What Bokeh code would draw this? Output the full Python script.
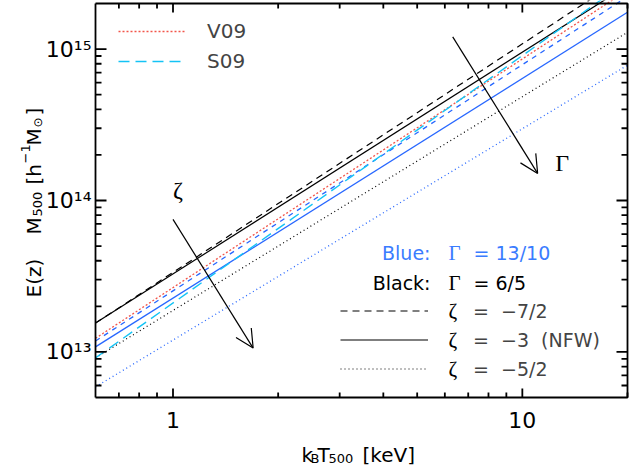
import math
from bokeh.plotting import figure
from bokeh.models import (FixedTicker, CustomJSTickFormatter, Label, Arrow,
                          OpenHead, Legend, LegendItem, Range1d)
from bokeh.embed import file_html
from bokeh.resources import INLINE

# ---- data: k_B T500 [keV] vs E(z) M500 [h^-1 Msun] ----
T_ends = [0.6, 20.0]
black_dashed = [1.55e13, 3.08e15]   # Gamma = 6/5,  zeta = -7/2
black_solid = [1.55e13, 2.63e15]    # Gamma = 6/5,  zeta = -3
black_dotted = [9.13e12, 1.29e15]   # Gamma = 6/5,  zeta = -5/2
blue_dashed = [1.18e13, 2.22e15]    # Gamma = 13/10, zeta = -7/2
blue_solid = [1.08e13, 1.75e15]     # Gamma = 13/10, zeta = -3
blue_dotted = [5.87e12, 7.83e14]    # Gamma = 13/10, zeta = -5/2
v09 = [1.23e13, 2.45e15]
s09 = [9.13e12, 2.81e15]

# axis ticks
x_major = [1, 10]
x_minor = [0.7, 0.8, 0.9, 2, 3, 4, 5, 6, 7, 8, 9, 20]
y_major = [1e13, 1e14, 1e15]
y_minor = [6e12, 7e12, 8e12, 9e12, 2e13, 3e13, 4e13, 5e13, 6e13, 7e13, 8e13, 9e13,
           2e14, 3e14, 4e14, 5e14, 6e14, 7e14, 8e14, 9e14]

x_lim = (0.6, 20.0)
y_lim = (5e12, 2e15)

# ---- layout (pixels) ----
W, H = 629, 466
BOX_L, BOX_R, BOX_T, BOX_B = 95, 627, 3, 397
ppdx = (BOX_R - BOX_L) / math.log10(x_lim[1] / x_lim[0])
ppdy = (BOX_B - BOX_T) / math.log10(y_lim[1] / y_lim[0])
xr = Range1d(x_lim[0] / 10 ** (BOX_L / ppdx), x_lim[1] * 10 ** ((W - BOX_R) / ppdx))
yr = Range1d(y_lim[0] / 10 ** ((H - BOX_B) / ppdy), y_lim[1] * 10 ** (BOX_T / ppdy))

BLUE = "#2767FF"
BLUE_TXT = "#3A7CFF"
CYAN = "#14C3F5"
RED = "#F2564B"
SANS = "DejaVu Sans"
SERIF = "Liberation Serif"

p = figure(width=W, height=H, x_axis_type="log", y_axis_type="log",
           x_range=xr, y_range=yr, output_backend="svg", toolbar_location=None,
           min_border=0, background_fill_color="white", border_fill_color="white",
           outline_line_color=None)
p.grid.visible = False

# data lines
r_bd = p.line(T_ends, black_dashed, line_color="black", line_width=1.2, line_dash="7 5")
r_bs = p.line(T_ends, black_solid, line_color="black", line_width=1.2)
r_bo = p.line(T_ends, black_dotted, line_color="black", line_width=1.2, line_dash="1 3")
r_ud = p.line(T_ends, blue_dashed, line_color=BLUE, line_width=1.3, line_dash="5 5")
r_us = p.line(T_ends, blue_solid, line_color=BLUE, line_width=1.3)
r_uo = p.line(T_ends, blue_dotted, line_color=BLUE, line_width=1.3, line_dash="1 3")
r_v = p.line(T_ends, v09, line_color=RED, line_width=1.3, line_dash="2 2")
r_s = p.line(T_ends, s09, line_color=CYAN, line_width=1.4, line_dash="11 6")


# box edges with inward ticks: one connected path per side
def side_x(majors, minors, y0, sign):
    ym = y0 * 10 ** (sign * 9 / ppdy)
    yn = y0 * 10 ** (sign * 5 / ppdy)
    marks = sorted([(v, ym) for v in majors] + [(v, yn) for v in minors])
    xs, ys = [x_lim[0]], [y0]
    for v, yt in marks:
        xs += [v, v, v]
        ys += [y0, yt, y0]
    xs.append(x_lim[1])
    ys.append(y0)
    p.line(xs, ys, line_color="black", line_width=1.8, line_join="bevel")


def side_y(majors, minors, x0, sign):
    xm = x0 * 10 ** (sign * 11 / ppdx)
    xn = x0 * 10 ** (sign * 6 / ppdx)
    marks = sorted([(v, xm) for v in majors] + [(v, xn) for v in minors])
    xs, ys = [x0], [y_lim[0]]
    for v, xt in marks:
        xs += [x0, xt, x0]
        ys += [v, v, v]
    xs.append(x0)
    ys.append(y_lim[1])
    p.line(xs, ys, line_color="black", line_width=1.8, line_join="bevel")


side_x(x_major, x_minor, y_lim[0], 1)
side_x(x_major, x_minor, y_lim[1], -1)
side_y(y_major, y_minor, x_lim[0], 1)
side_y(y_major, y_minor, x_lim[1], -1)

# axes (tick labels), fixed on the plot box edges
yfmt = CustomJSTickFormatter(code="""
const e = Math.round(Math.log10(tick));
const sup = {'0':'\u2070','1':'\u00b9','2':'\u00b2','3':'\u00b3','4':'\u2074','5':'\u2075','6':'\u2076','7':'\u2077','8':'\u2078','9':'\u2079','-':'\u207b'};
return '10' + String(e).split('').map(c => sup[c]).join('');
""")
xfmt = CustomJSTickFormatter(code="return String(Math.round(tick*1000)/1000);")


def style(ax):
    ax.major_tick_in = 0
    ax.major_tick_out = 0
    ax.minor_tick_in = 0
    ax.minor_tick_out = 0
    ax.axis_line_color = None
    ax.major_label_text_font = SANS
    ax.major_label_text_font_size = "22px"
    ax.major_label_text_color = "black"


for ax in p.xaxis:
    style(ax)
    ax.ticker = FixedTicker(ticks=x_major)
    ax.formatter = xfmt
    ax.major_label_standoff = 14
    ax.fixed_location = y_lim[0]
for ax in p.yaxis:
    style(ax)
    ax.ticker = FixedTicker(ticks=y_major)
    ax.formatter = yfmt
    ax.major_label_standoff = 4
    ax.fixed_location = x_lim[0]

# legends
leg1 = Legend(items=[LegendItem(label="V09", renderers=[r_v]),
                     LegendItem(label="S09", renderers=[r_s])],
              location=(118, 390), glyph_width=67, glyph_height=30, label_height=30,
              spacing=0, padding=0, margin=0, label_standoff=22,
              border_line_color=None, background_fill_alpha=0,
              label_text_font=SANS, label_text_font_size="20px")
p.add_layout(leg1)

leg2 = Legend(items=[LegendItem(label="=  \u22127/2", renderers=[r_bd]),
                     LegendItem(label="=  \u22123  (NFW)", renderers=[r_bs]),
                     LegendItem(label="=  \u22125/2", renderers=[r_bo])],
              location=(340, 83), glyph_width=88, glyph_height=29, label_height=29,
              spacing=0, padding=0, margin=0, label_standoff=45,
              border_line_color=None, background_fill_alpha=0,
              label_text_font=SANS, label_text_font_size="19px")
p.add_layout(leg2)


def lab(text, x, y, size, font=SANS, color="black", align="left", baseline="middle",
        angle=0.0, units="screen"):
    p.add_layout(Label(x=x, y=y, x_units=units, y_units=units, text=text,
                       text_font=font, text_font_size=size, text_color=color,
                       text_align=align, text_baseline=baseline, angle=angle))


# Gamma / zeta key text (screen units from the canvas bottom-left)
lab("Blue:", 430, 214, "19px", color=BLUE_TXT, align="right")
lab("\u0393", 448, 214, "21px", font=SERIF, color=BLUE_TXT)
lab("=  13/10", 473, 214, "19px", color=BLUE_TXT)
lab("Black:", 430, 184, "19px", align="right")
lab("\u0393", 448, 184, "21px", font=SERIF)
lab("=  6/5", 473, 184, "19px")
for yy in (156, 127, 98):
    lab("\u03b6", 448, yy, "21px", font=SERIF)

# arrows and their labels (data units)
p.add_layout(Arrow(end=OpenHead(size=18, line_width=1.2, line_color="black"),
                   x_start=1.0, y_start=7.5e13, x_end=1.696, y_end=1.06e13,
                   line_width=1.2, line_color="black"))
p.add_layout(Arrow(end=OpenHead(size=18, line_width=1.2, line_color="black"),
                   x_start=6.32, y_start=1.205e15, x_end=11.06, y_end=1.51e14,
                   line_width=1.2, line_color="black"))
lab("\u03b6", 1.033, 1.17e14, "24px", font=SERIF, align="center", units="data")
lab("\u0393", 13.0, 1.77e14, "24px", font=SERIF, align="center", units="data")

# x-axis title pieces
AB = "alphabetic"
lab("k", 301, 12, "20px", baseline=AB)
lab("B", 310, 8, "13px", baseline=AB)
lab("T", 317, 12, "20px", baseline=AB)
lab("500", 328, 8, "13px", baseline=AB)
lab("[keV]", 362, 12, "20px", baseline=AB)

# y-axis title pieces (rotated, reading upwards)
A = math.pi / 2
lab("E(z)", 33, 169, "20px", baseline=AB, angle=A)
lab("M", 33, 232, "20px", baseline=AB, angle=A)
lab("500", 37, 250, "13px", baseline=AB, angle=A)
lab("[h", 33, 282, "20px", baseline=AB, angle=A)
lab("\u22121", 25, 303, "13px", baseline=AB, angle=A)
lab("M", 33, 321, "20px", baseline=AB, angle=A)
lab("\u2299", 37, 339, "12px", baseline=AB, angle=A)
lab("]", 33, 351, "20px", baseline=AB, angle=A)

open("out.html", "w").write(file_html(p, INLINE))
